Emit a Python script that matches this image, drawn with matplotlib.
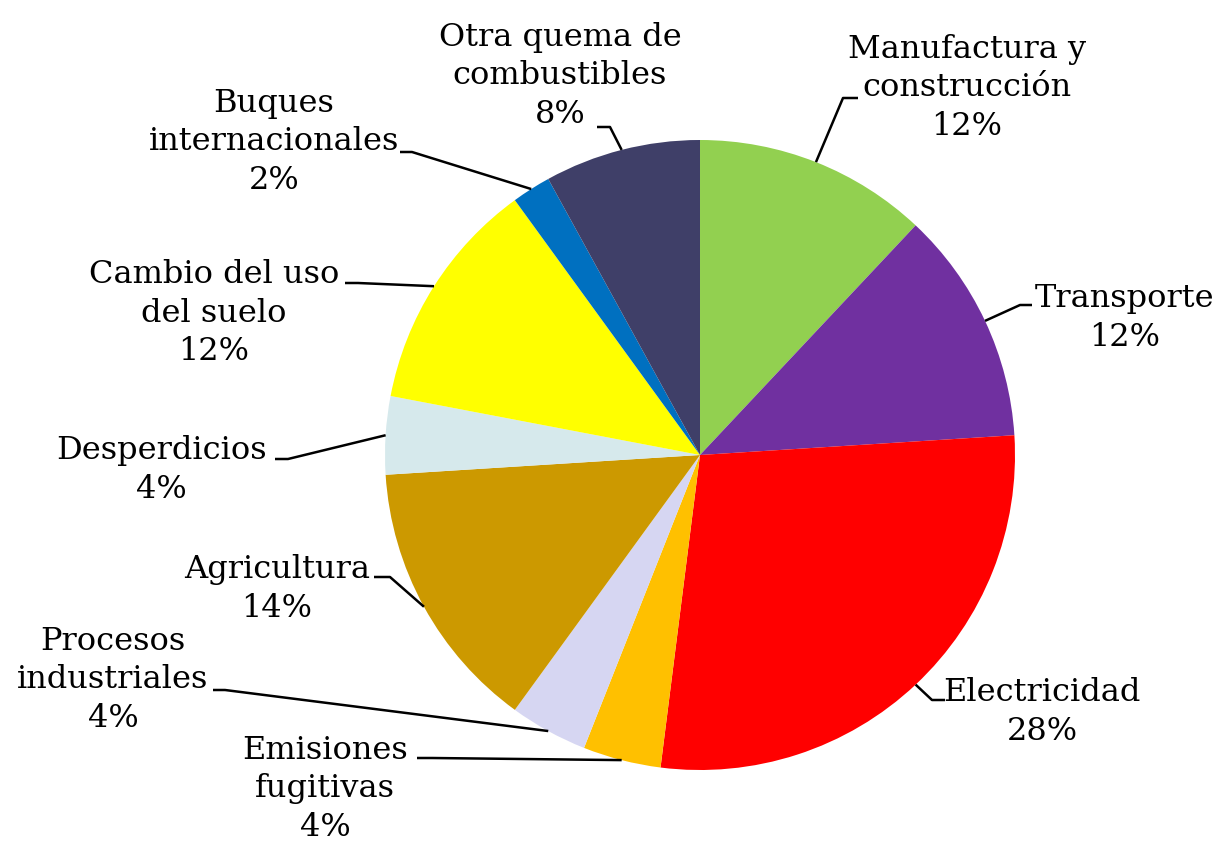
import numpy as np
import matplotlib
matplotlib.use("Agg")
import matplotlib.pyplot as plt

# ===================== 数据 =====================
labels = ["Manufactura y\nconstrucción", "Transporte", "Electricidad",
          "Emisiones\nfugitivas", "Procesos\nindustriales", "Agricultura",
          "Desperdicios", "Cambio del uso\ndel suelo", "Buques\ninternacionales",
          "Otra quema de\ncombustibles"]
values = [12, 12, 28, 4, 4, 14, 4, 12, 2, 8]
colors = ["#92D050", "#7030A0", "#FF0000", "#FFC000", "#D6D6F2",
          "#CC9900", "#D6E9EC", "#FFFF00", "#0070C0", "#3F3F68"]

# 标签位置（像素，图片坐标）与引导线拐点
label_px = [(967, 88), (1125, 318), (1042, 712), (325, 789), (113, 680),
            (277, 589), (161, 470), (214, 313), (274, 142), (560, 76)]
elbow_px = [(843, 98), (1020, 305), (932, 700), (432, 758), (225, 690),
            (390, 577), (288, 459), (358, 283), (412, 152), (610, 127)]
end_px = [(858, 98), (1032, 305), (945, 700), (417, 758), (213, 690),
          (374, 577), (275, 459), (345, 283), (400, 152), (597, 127)]

CX, CY, R = 700, 455, 315
W, H = 1220, 846


def px(p):
    return ((p[0] - CX) / R, (CY - p[1]) / R)


plt.rcParams['font.family'] = ['DejaVu Serif']

fig = plt.figure(figsize=(W / 100, H / 100), dpi=100)
ax = fig.add_axes([0, 0, 1, 1])

wedges, _ = ax.pie(values, colors=colors, startangle=90, counterclock=False,
                   radius=1, center=(0, 0), wedgeprops=dict(linewidth=0))
ax.set_xlim(-CX / R, (W - CX) / R)
ax.set_ylim(-(H - CY) / R, CY / R)
ax.set_aspect('equal')
ax.axis('off')

for i, w in enumerate(wedges):
    ang = np.deg2rad((w.theta1 + w.theta2) / 2)
    x0, y0 = np.cos(ang), np.sin(ang)
    ex, ey = px(elbow_px[i])
    tx, ty = px(end_px[i])
    ax.plot([x0, ex, tx], [y0, ey, ty], color='black', lw=1.8,
            solid_capstyle='butt')
    lx, ly = px(label_px[i])
    ax.text(lx, ly, f"{labels[i]}\n{values[i]}%", ha='center', va='center',
            fontsize=23, linespacing=1.32, color='black')

fig.savefig("out.png", dpi=100)
